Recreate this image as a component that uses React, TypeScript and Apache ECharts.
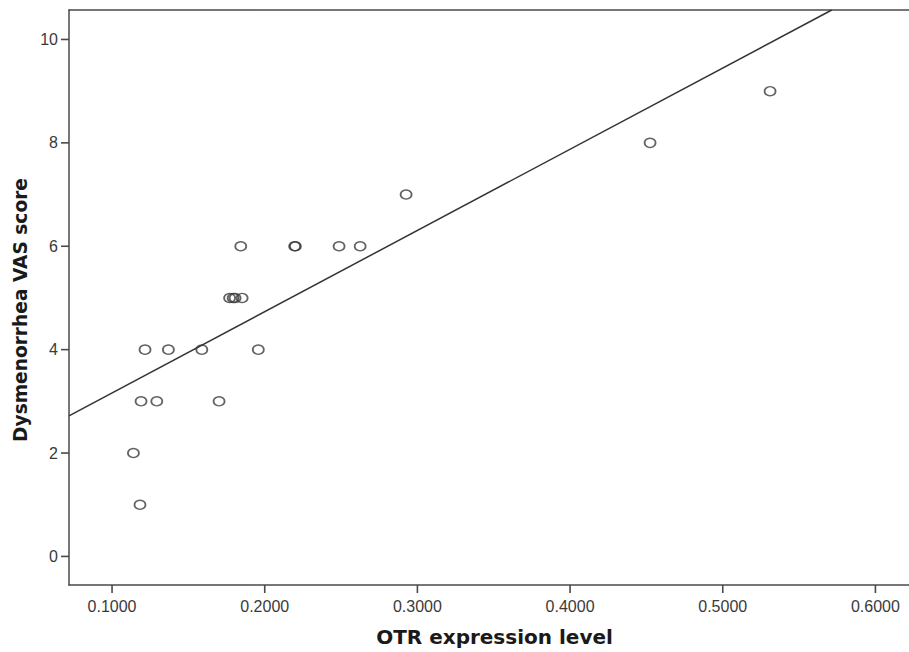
import React, { useEffect, useRef } from "react";
import * as echarts from "echarts";

const otrExpression = [
  0.1140, 0.1183, 0.1190, 0.1293, 0.1701, 0.1216, 0.1369, 0.1588, 0.1958,
  0.1770, 0.1793, 0.1806, 0.1852, 0.1843, 0.2196, 0.2201, 0.2487, 0.2625,
  0.2926, 0.4524, 0.5310,
];
const vasScore = [
  2, 1, 3, 3, 3, 4, 4, 4, 4,
  5, 5, 5, 5, 6, 6, 6, 6, 6,
  7, 8, 9,
];
const fitLineX = [0.0718, 0.5714];
const fitLineY = [2.72, 10.57];
const xTicks = [0.1, 0.2, 0.3, 0.4, 0.5, 0.6];
const yTicks = [0, 2, 4, 6, 8, 10];

export default function App() {
  const ref = useRef<HTMLDivElement>(null);
  useEffect(() => {
    if (!ref.current) return;
    const chart = echarts.init(ref.current, null, { renderer: "svg" });
    const axisColor = "#4a4a4a";
    const xMin = 0.0718;
    const xMax = 0.6292;
    const yMin = -0.553;
    const yMax = 10.57;
    const tickLen = 8;
    chart.setOption({
      animation: false,
      backgroundColor: "#ffffff",
      grid: { left: 69, top: 10, bottom: 64, right: 0 },
      xAxis: [
        {
          type: "value",
          min: xMin,
          max: xMax,
          name: "OTR expression level",
          nameLocation: "middle",
          nameGap: 42,
          nameTextStyle: {
            fontFamily: "DejaVu Sans",
            fontWeight: "bold",
            fontSize: 20,
            color: "#1a1a1a",
          },
          splitLine: { show: false },
          axisLine: { show: true, onZero: false, lineStyle: { color: axisColor, width: 1.5 } },
          axisTick: { show: false },
          axisLabel: {
            customValues: xTicks,
            formatter: (v: number) => v.toFixed(4),
            fontFamily: "Liberation Sans",
            fontSize: 16,
            color: "#3a3a3a",
            margin: 13,
          },
        },
        {
          type: "value",
          position: "top",
          min: xMin,
          max: xMax,
          splitLine: { show: false },
          axisLine: { show: true, onZero: false, lineStyle: { color: axisColor, width: 1.5 } },
          axisTick: { show: false },
          axisLabel: { show: false },
        },
      ],
      yAxis: {
        type: "value",
        min: yMin,
        max: yMax,
        splitLine: { show: false },
        axisLine: { show: true, onZero: false, lineStyle: { color: axisColor, width: 1.5 } },
        axisTick: { show: false },
        axisLabel: {
          customValues: yTicks,
          fontFamily: "Liberation Sans",
          fontSize: 16,
          color: "#3a3a3a",
          margin: 11,
        },
      },
      series: [
        {
          type: "line",
          data: fitLineX.map((x, i) => [x, fitLineY[i]]),
          symbol: "none",
          clip: true,
          lineStyle: { color: "#333333", width: 1.5 },
          silent: true,
        },
        {
          type: "scatter",
          data: otrExpression.map((x, i) => [x, vasScore[i]]),
          symbol: "circle",
          symbolSize: [11, 9],
          itemStyle: {
            color: "rgba(255,255,255,0)",
            borderColor: "#3c3c3c",
            borderWidth: 1.6,
          },
        },
      ],
    });
    const tickGraphics: any[] = [];
    xTicks.forEach((v) => {
      const p = chart.convertToPixel({ gridIndex: 0 }, [v, yMin]) as number[];
      tickGraphics.push({
        type: "line",
        silent: true,
        shape: { x1: p[0], y1: p[1], x2: p[0], y2: p[1] + tickLen },
        style: { stroke: axisColor, lineWidth: 1.6 },
      });
    });
    yTicks.forEach((v) => {
      const p = chart.convertToPixel({ gridIndex: 0 }, [xMin, v]) as number[];
      tickGraphics.push({
        type: "line",
        silent: true,
        shape: { x1: p[0], y1: p[1], x2: p[0] - tickLen, y2: p[1] },
        style: { stroke: axisColor, lineWidth: 1.6 },
      });
    });
    chart.setOption({
      graphic: [
        {
          type: "text",
          x: 20,
          y: 310,
          rotation: Math.PI / 2,
          style: {
            text: "Dysmenorrhea VAS score",
            fontFamily: "DejaVu Sans",
            fontWeight: "bold",
            fontSize: 18.6,
            fill: "#1a1a1a",
            textAlign: "center",
            textVerticalAlign: "middle",
          },
        },
        ...tickGraphics,
      ],
    });
    return () => chart.dispose();
  }, []);
  return (
    <div
      ref={ref}
      style={{ position: "fixed", left: 0, top: 0, width: 920, height: 652, background: "#fff" }}
    />
  );
}
